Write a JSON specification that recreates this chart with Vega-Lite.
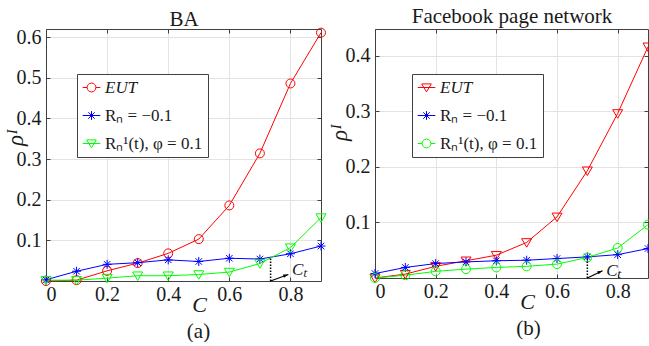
{
  "$schema": "https://vega.github.io/schema/vega-lite/v6.json",
  "background": "white",
  "padding": {"left": 4, "top": 5, "right": 0, "bottom": 0},
  "spacing": 0,
  "config": {
    "font": "Liberation Serif",
    "view": {"stroke": null},
    "axis": {
      "labelFont": "Liberation Serif", "labelFontSize": 20, "labelColor": "#1a1a1a",
      "titleFont": "Liberation Serif", "titleFontWeight": "normal", "titleColor": "#1a1a1a",
      "domain": true, "domainColor": "#404040", "domainWidth": 1,
      "tickColor": "#404040", "tickSize": -4, "tickWidth": 1,
      "gridColor": "#e3e3e3", "gridWidth": 1,
      "format": "~g"
    },
    "legend": {
      "orient": "none", "padding": 5, "rowPadding": 10,
      "symbolSize": 64, "symbolStrokeWidth": 1, "symbolOffset": 1, "labelOffset": 5,
      "labelFont": "Liberation Serif", "labelFontSize": 17, "labelColor": "#1a1a1a",
      "strokeColor": "#404040", "fillColor": "white", "cornerRadius": 0
    },
    "title": {"font": "Liberation Serif", "fontSize": 21, "fontWeight": "normal", "color": "#1a1a1a"}
  },
  "datasets": {
    "a": [
      {"C": 0, "rho": 0, "s": "EUT"}, {"C": 0.1, "rho": 0.002, "s": "EUT"}, {"C": 0.2, "rho": 0.025, "s": "EUT"},
      {"C": 0.3, "rho": 0.044, "s": "EUT"}, {"C": 0.4, "rho": 0.068, "s": "EUT"}, {"C": 0.5, "rho": 0.103, "s": "EUT"},
      {"C": 0.6, "rho": 0.186, "s": "EUT"}, {"C": 0.7, "rho": 0.314, "s": "EUT"}, {"C": 0.8, "rho": 0.486, "s": "EUT"},
      {"C": 0.9, "rho": 0.611, "s": "EUT"},
      {"C": 0, "rho": 0.003, "s": "Rₙ = −0.1"}, {"C": 0.1, "rho": 0.024, "s": "Rₙ = −0.1"}, {"C": 0.2, "rho": 0.041, "s": "Rₙ = −0.1"},
      {"C": 0.3, "rho": 0.045, "s": "Rₙ = −0.1"}, {"C": 0.4, "rho": 0.052, "s": "Rₙ = −0.1"}, {"C": 0.5, "rho": 0.048, "s": "Rₙ = −0.1"},
      {"C": 0.6, "rho": 0.056, "s": "Rₙ = −0.1"}, {"C": 0.7, "rho": 0.054, "s": "Rₙ = −0.1"}, {"C": 0.8, "rho": 0.067, "s": "Rₙ = −0.1"},
      {"C": 0.9, "rho": 0.086, "s": "Rₙ = −0.1"},
      {"C": 0, "rho": 0.002, "s": "Rₙ¹(t), φ = 0.1"}, {"C": 0.1, "rho": 0.002, "s": "Rₙ¹(t), φ = 0.1"}, {"C": 0.2, "rho": 0.007, "s": "Rₙ¹(t), φ = 0.1"},
      {"C": 0.3, "rho": 0.013, "s": "Rₙ¹(t), φ = 0.1"}, {"C": 0.4, "rho": 0.013, "s": "Rₙ¹(t), φ = 0.1"}, {"C": 0.5, "rho": 0.016, "s": "Rₙ¹(t), φ = 0.1"},
      {"C": 0.6, "rho": 0.022, "s": "Rₙ¹(t), φ = 0.1"}, {"C": 0.7, "rho": 0.043, "s": "Rₙ¹(t), φ = 0.1"}, {"C": 0.8, "rho": 0.082, "s": "Rₙ¹(t), φ = 0.1"},
      {"C": 0.9, "rho": 0.156, "s": "Rₙ¹(t), φ = 0.1"}
    ],
    "b": [
      {"C": 0, "rho": 0, "s": "EUT"}, {"C": 0.1, "rho": 0.007, "s": "EUT"}, {"C": 0.2, "rho": 0.021, "s": "EUT"},
      {"C": 0.3, "rho": 0.031, "s": "EUT"}, {"C": 0.4, "rho": 0.041, "s": "EUT"}, {"C": 0.5, "rho": 0.064, "s": "EUT"},
      {"C": 0.6, "rho": 0.110, "s": "EUT"}, {"C": 0.7, "rho": 0.193, "s": "EUT"}, {"C": 0.8, "rho": 0.296, "s": "EUT"},
      {"C": 0.9, "rho": 0.416, "s": "EUT"},
      {"C": 0, "rho": 0.008, "s": "Rₙ = −0.1"}, {"C": 0.1, "rho": 0.019, "s": "Rₙ = −0.1"}, {"C": 0.2, "rho": 0.026, "s": "Rₙ = −0.1"},
      {"C": 0.3, "rho": 0.029, "s": "Rₙ = −0.1"}, {"C": 0.4, "rho": 0.031, "s": "Rₙ = −0.1"}, {"C": 0.5, "rho": 0.032, "s": "Rₙ = −0.1"},
      {"C": 0.6, "rho": 0.035, "s": "Rₙ = −0.1"}, {"C": 0.7, "rho": 0.038, "s": "Rₙ = −0.1"}, {"C": 0.8, "rho": 0.042, "s": "Rₙ = −0.1"},
      {"C": 0.9, "rho": 0.053, "s": "Rₙ = −0.1"},
      {"C": 0, "rho": 0, "s": "Rₙ¹(t), φ = 0.1"}, {"C": 0.1, "rho": 0.005, "s": "Rₙ¹(t), φ = 0.1"}, {"C": 0.2, "rho": 0.012, "s": "Rₙ¹(t), φ = 0.1"},
      {"C": 0.3, "rho": 0.016, "s": "Rₙ¹(t), φ = 0.1"}, {"C": 0.4, "rho": 0.019, "s": "Rₙ¹(t), φ = 0.1"}, {"C": 0.5, "rho": 0.021, "s": "Rₙ¹(t), φ = 0.1"},
      {"C": 0.6, "rho": 0.025, "s": "Rₙ¹(t), φ = 0.1"}, {"C": 0.7, "rho": 0.037, "s": "Rₙ¹(t), φ = 0.1"}, {"C": 0.8, "rho": 0.054, "s": "Rₙ¹(t), φ = 0.1"},
      {"C": 0.9, "rho": 0.096, "s": "Rₙ¹(t), φ = 0.1"}
    ],
    "annA": [{"ct": 0.735, "y0": 0, "ctTop": 0.056, "ax": 0.735, "ay": 0.0, "tx": 0.793, "ty": 0.016, "lx": 0.805, "ly": 0.027, "lab": "Cₜ"}],
    "annB": [{"ct": 0.7, "y0": 0, "ctTop": 0.037, "ax": 0.7, "ay": 0.0, "tx": 0.75, "ty": 0.013, "lx": 0.762, "ly": 0.013, "lab": "Cₜ"}]
  },
  "resolve": {
    "scale": {"x": "independent", "y": "independent", "stroke": "independent"},
    "legend": {"stroke": "independent"}
  },
  "hconcat": [
    {
      "width": 275, "height": 252,
      "title": {"text": "(a)", "orient": "bottom", "dx": 15, "offset": 6},
      "resolve": {"axis": {"x": "independent", "y": "independent"}},
      "layer": [
        {
          "data": {"name": "a"},
          "mark": {"type": "line", "strokeWidth": 1, "clip": false},
          "encoding": {
            "x": {"field": "C", "type": "quantitative", "scale": {"domain": [0, 0.9], "nice": false},
              "axis": {"orient": "bottom", "values": [0, 0.2, 0.4, 0.6, 0.8], "grid": true, "labelPadding": 7,
                "gridOpacity": {"condition": {"test": "datum.value == 0", "value": 0}, "value": 1},
                "title": "C", "titleFontStyle": "italic", "titleFontSize": 22, "titleX": 153, "titleY": 30, "titleBaseline": "alphabetic"}},
            "y": {"field": "rho", "type": "quantitative", "scale": {"domain": [0, 0.62], "nice": false},
              "axis": {"orient": "left", "values": [0.1, 0.2, 0.3, 0.4, 0.5, 0.6], "grid": true, "labelPadding": 9,
                "title": "ρᴵ", "titleFontSize": 23, "titleFontStyle": "italic", "titleX": -31, "titleY": 108, "titleAlign": "center", "titleBaseline": "middle"}},
            "detail": {"field": "s"},
            "stroke": {"field": "s", "type": "nominal",
              "scale": {"domain": ["EUT", "Rₙ = −0.1", "Rₙ¹(t), φ = 0.1"], "range": ["#ff0000", "#0000ff", "#00ff00"]},
              "legend": {"title": null, "legendX": 31, "legendY": 45, "labelFont": "Liberation Serif", "labelFontSize": 17,
                "symbolType": {"expr": "datum.value == 'EUT' ? 'M-2.2,0L-1.1,0M1.1,0L2.2,0M-1.1,0A1.1,1.1 0 1,0 1.1,0A1.1,1.1 0 1,0 -1.1,0' : datum.value == 'Rₙ = −0.1' ? 'M-2.2,0L2.2,0M0,-1.1L0,1.1M-0.8,-0.8L0.8,0.8M-0.8,0.8L0.8,-0.8' : 'M-2.2,0L2.2,0M-1.2,-0.9L1.2,-0.9L0,1.1L-1.2,-0.9'"},
                "labelFontStyle": {"expr": "datum.value == 'EUT' ? 'italic' : 'normal'"}}}
          }
        },
        {
          "data": {"name": "a"},
          "transform": [{"filter": "datum.s == 'EUT'"}],
          "mark": {"type": "point", "filled": false, "size": 100, "strokeWidth": 1, "opacity": 1, "clip": false, "color": "#ff0000",
            "shape": "M-0.9,0A0.9,0.9 0 1,0 0.9,0A0.9,0.9 0 1,0 -0.9,0Z"},
          "encoding": {
            "x": {"field": "C", "type": "quantitative", "scale": {"domain": [0, 0.9], "nice": false},
              "axis": {"orient": "top", "values": [0, 0.2, 0.4, 0.6, 0.8], "labels": false, "grid": false,
                "title": "BA", "titleFontSize": 21, "titleY": -4, "titleBaseline": "alphabetic"}},
            "y": {"field": "rho", "type": "quantitative", "scale": {"domain": [0, 0.62], "nice": false},
              "axis": {"orient": "right", "values": [0.1, 0.2, 0.3, 0.4, 0.5, 0.6], "labels": false, "grid": false, "title": null}}
          }
        },
        {
          "data": {"name": "a"},
          "transform": [{"filter": "datum.s == 'Rₙ = −0.1'"}],
          "mark": {"type": "point", "filled": false, "size": 100, "strokeWidth": 1, "opacity": 1, "clip": false, "color": "#0000ff",
            "shape": "M0,-0.9L0,0.9M-0.9,0L0.9,0M-0.65,-0.65L0.65,0.65M-0.65,0.65L0.65,-0.65"},
          "encoding": {
            "x": {"field": "C", "type": "quantitative", "axis": null},
            "y": {"field": "rho", "type": "quantitative", "axis": null}
          }
        },
        {
          "data": {"name": "a"},
          "transform": [{"filter": "datum.s == 'Rₙ¹(t), φ = 0.1'"}],
          "mark": {"type": "point", "filled": false, "size": 100, "strokeWidth": 1, "opacity": 1, "clip": false, "color": "#00ff00",
            "shape": "M-1,-0.75L1,-0.75L0,0.95Z"},
          "encoding": {
            "x": {"field": "C", "type": "quantitative", "axis": null},
            "y": {"field": "rho", "type": "quantitative", "axis": null}
          }
        },
        {
          "data": {"name": "annA"},
          "mark": {"type": "rule", "color": "black", "strokeWidth": 1.5, "strokeDash": [1.5, 1.5]},
          "encoding": {
            "x": {"field": "ct", "type": "quantitative", "axis": null},
            "y": {"field": "y0", "type": "quantitative", "axis": null},
            "y2": {"field": "ctTop"}
          }
        },
        {
          "data": {"name": "annA"},
          "mark": {"type": "rule", "color": "black", "strokeWidth": 1.2},
          "encoding": {
            "x": {"field": "ax", "type": "quantitative", "axis": null},
            "y": {"field": "ay", "type": "quantitative", "axis": null},
            "x2": {"field": "tx"},
            "y2": {"field": "ty"}
          }
        },
        {
          "data": {"name": "annA"},
          "mark": {"type": "point", "shape": "M0,0L0.55,1.7L-0.55,1.7Z", "filled": true, "color": "black", "size": 36, "angle": 71, "opacity": 1},
          "encoding": {
            "x": {"field": "tx", "type": "quantitative", "axis": null},
            "y": {"field": "ty", "type": "quantitative", "axis": null}
          }
        },
        {
          "data": {"name": "annA"},
          "mark": {"type": "text", "font": "Liberation Serif", "fontSize": 17, "fontStyle": "italic", "align": "left", "baseline": "middle", "color": "#1a1a1a"},
          "encoding": {
            "x": {"field": "lx", "type": "quantitative", "axis": null},
            "y": {"field": "ly", "type": "quantitative", "axis": null},
            "text": {"field": "lab"}
          }
        }
      ]
    },
    {
      "width": 273, "height": 249,
      "title": {"text": "(b)", "orient": "bottom", "dx": 17, "offset": 6},
      "resolve": {"axis": {"x": "independent", "y": "independent"}},
      "layer": [
        {
          "data": {"name": "b"},
          "mark": {"type": "line", "strokeWidth": 1, "clip": false},
          "encoding": {
            "x": {"field": "C", "type": "quantitative", "scale": {"domain": [0, 0.9], "nice": false},
              "axis": {"orient": "bottom", "values": [0, 0.2, 0.4, 0.6, 0.8], "grid": true, "labelPadding": 7,
                "gridOpacity": {"condition": {"test": "datum.value == 0", "value": 0}, "value": 1},
                "title": "C", "titleFontStyle": "italic", "titleFontSize": 22, "titleX": 152, "titleY": 30, "titleBaseline": "alphabetic"}},
            "y": {"field": "rho", "type": "quantitative", "scale": {"domain": [0, 0.448], "nice": false},
              "axis": {"orient": "left", "values": [0.1, 0.2, 0.3, 0.4], "grid": true, "labelPadding": 9,
                "title": "ρᴵ", "titleFontSize": 23, "titleFontStyle": "italic", "titleX": -36, "titleY": 103, "titleAlign": "center", "titleBaseline": "middle"}},
            "detail": {"field": "s"},
            "stroke": {"field": "s", "type": "nominal",
              "scale": {"domain": ["EUT", "Rₙ = −0.1", "Rₙ¹(t), φ = 0.1"], "range": ["#ff0000", "#0000ff", "#00ff00"]},
              "legend": {"title": null, "legendX": 37, "legendY": 45, "labelFont": "Liberation Serif", "labelFontSize": 17,
                "symbolType": {"expr": "datum.value == 'EUT' ? 'M-2.2,0L2.2,0M-1.2,-0.9L1.2,-0.9L0,1.1L-1.2,-0.9' : datum.value == 'Rₙ = −0.1' ? 'M-2.2,0L2.2,0M0,-1.1L0,1.1M-0.8,-0.8L0.8,0.8M-0.8,0.8L0.8,-0.8' : 'M-2.2,0L-1.1,0M1.1,0L2.2,0M-1.1,0A1.1,1.1 0 1,0 1.1,0A1.1,1.1 0 1,0 -1.1,0'"},
                "labelFontStyle": {"expr": "datum.value == 'EUT' ? 'italic' : 'normal'"}}}
          }
        },
        {
          "data": {"name": "b"},
          "transform": [{"filter": "datum.s == 'EUT'"}],
          "mark": {"type": "point", "filled": false, "size": 100, "strokeWidth": 1, "opacity": 1, "clip": false, "color": "#ff0000",
            "shape": "M-1,-0.75L1,-0.75L0,0.95Z"},
          "encoding": {
            "x": {"field": "C", "type": "quantitative", "scale": {"domain": [0, 0.9], "nice": false},
              "axis": {"orient": "top", "values": [0, 0.2, 0.4, 0.6, 0.8], "labels": false, "grid": false,
                "title": "Facebook page network", "titleFontSize": 21, "titleY": -7, "titleBaseline": "alphabetic"}},
            "y": {"field": "rho", "type": "quantitative", "scale": {"domain": [0, 0.448], "nice": false},
              "axis": {"orient": "right", "values": [0.1, 0.2, 0.3, 0.4], "labels": false, "grid": false, "title": null}}
          }
        },
        {
          "data": {"name": "b"},
          "transform": [{"filter": "datum.s == 'Rₙ = −0.1'"}],
          "mark": {"type": "point", "filled": false, "size": 100, "strokeWidth": 1, "opacity": 1, "clip": false, "color": "#0000ff",
            "shape": "M0,-0.9L0,0.9M-0.9,0L0.9,0M-0.65,-0.65L0.65,0.65M-0.65,0.65L0.65,-0.65"},
          "encoding": {
            "x": {"field": "C", "type": "quantitative", "axis": null},
            "y": {"field": "rho", "type": "quantitative", "axis": null}
          }
        },
        {
          "data": {"name": "b"},
          "transform": [{"filter": "datum.s == 'Rₙ¹(t), φ = 0.1'"}],
          "mark": {"type": "point", "filled": false, "size": 100, "strokeWidth": 1, "opacity": 1, "clip": false, "color": "#00ff00",
            "shape": "M-0.9,0A0.9,0.9 0 1,0 0.9,0A0.9,0.9 0 1,0 -0.9,0Z"},
          "encoding": {
            "x": {"field": "C", "type": "quantitative", "axis": null},
            "y": {"field": "rho", "type": "quantitative", "axis": null}
          }
        },
        {
          "data": {"name": "annB"},
          "mark": {"type": "rule", "color": "black", "strokeWidth": 1.5, "strokeDash": [1.5, 1.5]},
          "encoding": {
            "x": {"field": "ct", "type": "quantitative", "axis": null},
            "y": {"field": "y0", "type": "quantitative", "axis": null},
            "y2": {"field": "ctTop"}
          }
        },
        {
          "data": {"name": "annB"},
          "mark": {"type": "rule", "color": "black", "strokeWidth": 1.2},
          "encoding": {
            "x": {"field": "ax", "type": "quantitative", "axis": null},
            "y": {"field": "ay", "type": "quantitative", "axis": null},
            "x2": {"field": "tx"},
            "y2": {"field": "ty"}
          }
        },
        {
          "data": {"name": "annB"},
          "mark": {"type": "point", "shape": "M0,0L0.55,1.7L-0.55,1.7Z", "filled": true, "color": "black", "size": 36, "angle": 66, "opacity": 1},
          "encoding": {
            "x": {"field": "tx", "type": "quantitative", "axis": null},
            "y": {"field": "ty", "type": "quantitative", "axis": null}
          }
        },
        {
          "data": {"name": "annB"},
          "mark": {"type": "text", "font": "Liberation Serif", "fontSize": 17, "fontStyle": "italic", "align": "left", "baseline": "middle", "color": "#1a1a1a"},
          "encoding": {
            "x": {"field": "lx", "type": "quantitative", "axis": null},
            "y": {"field": "ly", "type": "quantitative", "axis": null},
            "text": {"field": "lab"}
          }
        }
      ]
    }
  ]
}
